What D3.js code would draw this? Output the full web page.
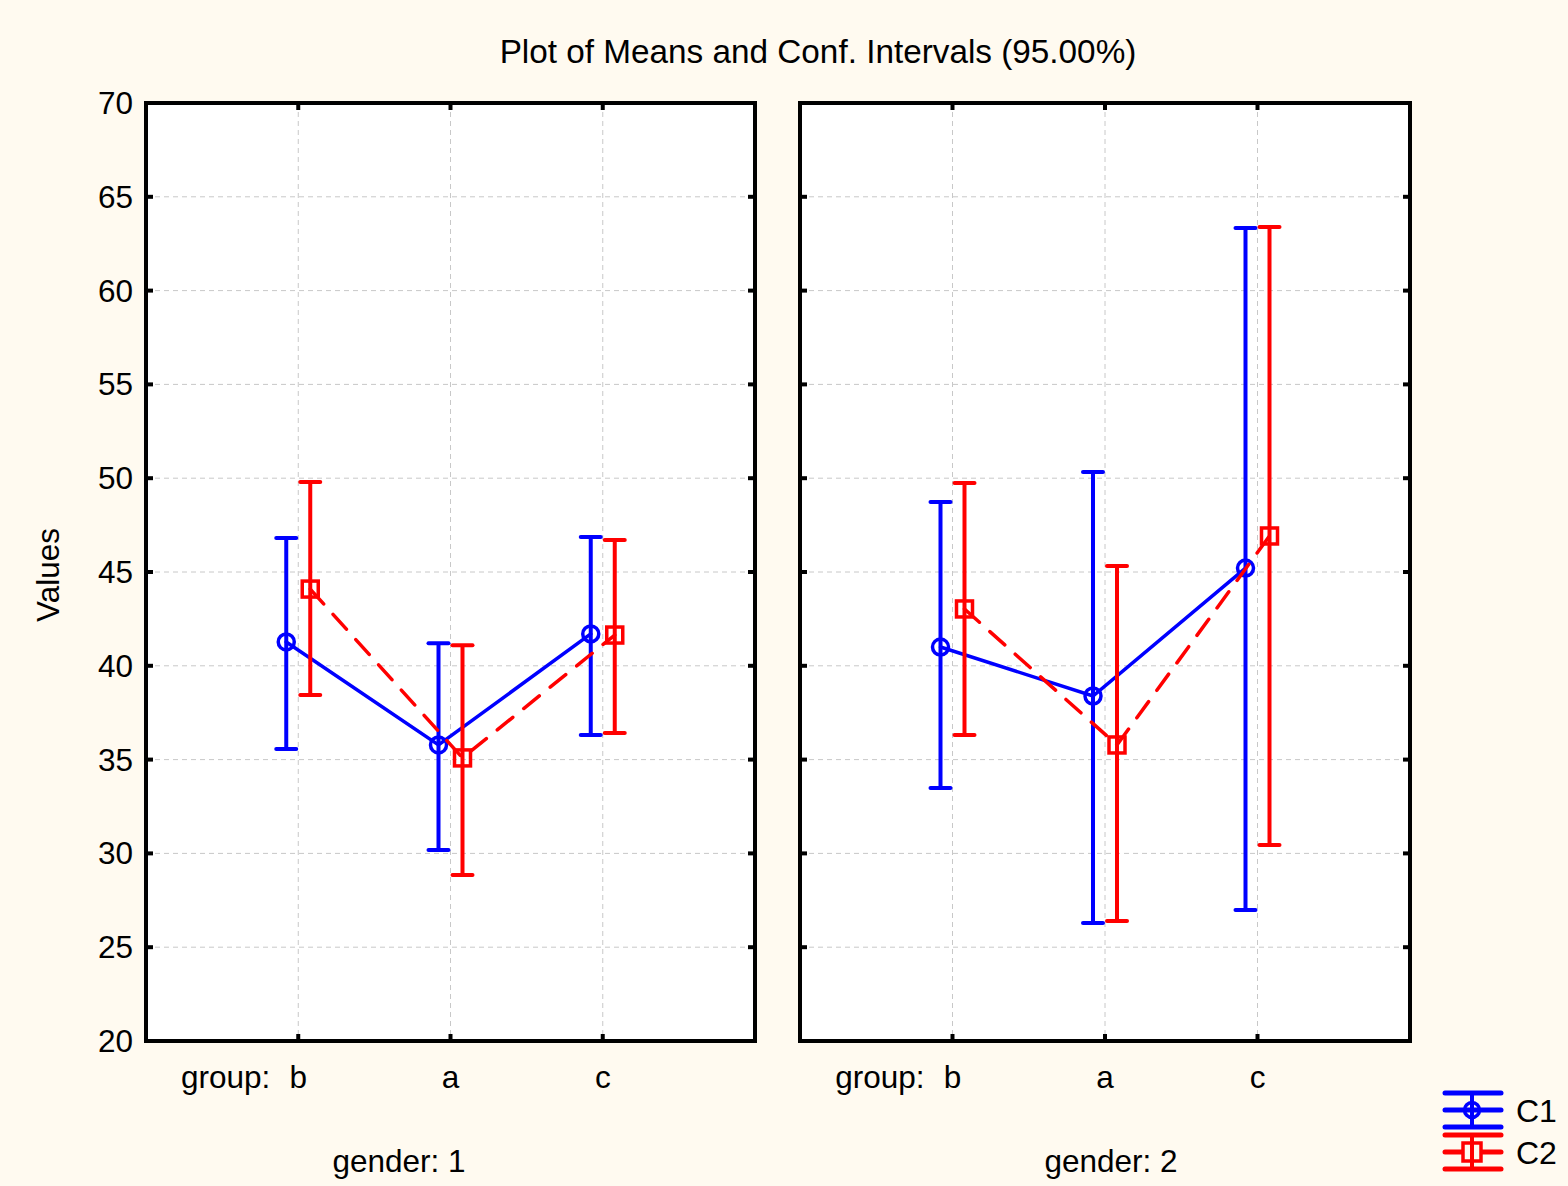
<!DOCTYPE html>
<html><head><meta charset="utf-8">
<script src="https://cdn.jsdelivr.net/npm/d3@7"></script>
<style>body{margin:0;background:#FFFAF0;}svg{display:block;font-family:"Liberation Sans",Arial,sans-serif;}</style>
</head><body>
<svg id="chart" width="1568" height="1186"></svg>
<script>
const groups = ["b","a","c"];
const panels = ["gender: 1","gender: 2"];
const yTicks = [20,25,30,35,40,45,50,55,60,65,70];
// [panel][group]
const c1Mean = [[41.27,35.78,41.7],[41.0,38.39,45.21]];
const c1Low  = [[35.57,30.18,36.31],[33.49,26.29,26.98]];
const c1High = [[46.81,41.2,46.87],[48.73,50.33,63.34]];
const c2Mean = [[44.09,35.09,41.64],[43.03,35.78,46.92]];
const c2Low  = [[38.44,28.85,36.42],[36.31,26.4,30.45]];
const c2High = [[49.8,41.1,46.7],[49.74,45.32,63.39]];
const seriesNames = ["C1","C2"];

const svg = d3.select("#chart");
svg.append("rect").attr("width",1568).attr("height",1186).attr("fill","#FFFAF0");

const plotTop = 103, plotBottom = 1041;
const panelX = [[146,755],[800,1410]];
const y = d3.scaleLinear().domain([20,70]).range([plotBottom,plotTop]);
const FS = 31.5;

svg.append("text").attr("x",818).attr("y",63).attr("text-anchor","middle")
  .attr("font-size",33.3).text("Plot of Means and Conf. Intervals (95.00%)");

svg.append("text").attr("transform","translate(59,575) rotate(-90)")
  .attr("text-anchor","middle").attr("font-size",FS).text("Values");

svg.selectAll(".ylab").data(yTicks).enter().append("text")
  .attr("x",133).attr("y",d=>y(d)+11).attr("text-anchor","end").attr("font-size",FS).text(d=>d);

const series = [
  {mean:c1Mean, low:c1Low, high:c1High, color:"#0000FF", off:-12, dash:null, marker:"circle"},
  {mean:c2Mean, low:c2Low, high:c2High, color:"#FF0000", off:12, dash:"20,14", marker:"square"}
];

panelX.forEach((px,pi)=>{
  const x = d3.scalePoint().domain(groups).range([px[0],px[1]]).padding(1);
  const g = svg.append("g");
  g.append("rect").attr("x",px[0]).attr("y",plotTop).attr("width",px[1]-px[0]).attr("height",plotBottom-plotTop).attr("fill","#fff");
  g.selectAll(".hg").data(yTicks.slice(1,-1)).enter().append("line")
    .attr("x1",px[0]).attr("x2",px[1]).attr("y1",d=>y(d)).attr("y2",d=>y(d))
    .attr("stroke","#c8c8c8").attr("stroke-dasharray","5,4").attr("stroke-width",1);
  g.selectAll(".vg").data(groups).enter().append("line")
    .attr("x1",d=>x(d)).attr("x2",d=>x(d)).attr("y1",plotTop).attr("y2",plotBottom)
    .attr("stroke","#c8c8c8").attr("stroke-dasharray","5,4").attr("stroke-width",1);
  g.selectAll(".tl").data(yTicks).enter().append("line")
    .attr("x1",px[0]).attr("x2",px[0]+7).attr("y1",d=>y(d)).attr("y2",d=>y(d)).attr("stroke","#000").attr("stroke-width",4);
  g.selectAll(".tr").data(yTicks).enter().append("line")
    .attr("x1",px[1]-7).attr("x2",px[1]).attr("y1",d=>y(d)).attr("y2",d=>y(d)).attr("stroke","#000").attr("stroke-width",4);
  g.selectAll(".tb").data(groups).enter().append("line")
    .attr("x1",d=>x(d)).attr("x2",d=>x(d)).attr("y1",plotBottom-7).attr("y2",plotBottom).attr("stroke","#000").attr("stroke-width",4);
  g.selectAll(".tt").data(groups).enter().append("line")
    .attr("x1",d=>x(d)).attr("x2",d=>x(d)).attr("y1",plotTop).attr("y2",plotTop+7).attr("stroke","#000").attr("stroke-width",4);

  series.forEach(s=>{
    const pts = groups.map((gname,gi)=>({x:x(gname)+s.off, m:s.mean[pi][gi], lo:s.low[pi][gi], hi:s.high[pi][gi]}));
    const line = d3.line().x(d=>d.x).y(d=>y(d.m));
    g.append("path").attr("d",line(pts)).attr("fill","none").attr("stroke",s.color).attr("stroke-width",3.5)
      .attr("stroke-dasharray",s.dash).attr("stroke-linecap","round");
    pts.forEach(p=>{
      g.append("line").attr("x1",p.x).attr("x2",p.x).attr("y1",y(p.lo)).attr("y2",y(p.hi)).attr("stroke",s.color).attr("stroke-width",4);
      [p.lo,p.hi].forEach(v=>g.append("line").attr("x1",p.x-10).attr("x2",p.x+10).attr("y1",y(v)).attr("y2",y(v)).attr("stroke",s.color).attr("stroke-width",4).attr("stroke-linecap","round"));
      if(s.marker==="circle") g.append("circle").attr("cx",p.x).attr("cy",y(p.m)).attr("r",8).attr("fill","none").attr("stroke",s.color).attr("stroke-width",3.5);
      else g.append("rect").attr("x",p.x-8).attr("y",y(p.m)-8).attr("width",16).attr("height",16).attr("fill","none").attr("stroke",s.color).attr("stroke-width",3.5);
    });
  });
  g.append("rect").attr("x",px[0]).attr("y",plotTop).attr("width",px[1]-px[0]).attr("height",plotBottom-plotTop)
    .attr("fill","none").attr("stroke","#000").attr("stroke-width",4);
  groups.forEach((gname)=>{
    g.append("text").attr("x",x(gname)).attr("y",1088).attr("text-anchor","middle").attr("font-size",FS).text(gname);
  });
  g.append("text").attr("x",x(groups[0])-28).attr("y",1088).attr("text-anchor","end").attr("font-size",FS).text("group:");
  g.append("text").attr("x",pi===0?399:1111).attr("y",1172).attr("text-anchor","middle").attr("font-size",FS).text(panels[pi]);
});

series.forEach((s,i)=>{
  const cy = 1110 + i*42;
  const lg = svg.append("g");
  [-17,0,17].forEach(d=>lg.append("line").attr("x1",1445).attr("x2",1501).attr("y1",cy+d).attr("y2",cy+d).attr("stroke",s.color).attr("stroke-width",5).attr("stroke-linecap","round"));
  lg.append("line").attr("x1",1472).attr("x2",1472).attr("y1",cy-17).attr("y2",cy+17).attr("stroke",s.color).attr("stroke-width",4);
  if(s.marker==="circle") lg.append("circle").attr("cx",1472).attr("cy",cy).attr("r",7.5).attr("fill","none").attr("stroke",s.color).attr("stroke-width",3.5);
  else lg.append("rect").attr("x",1463).attr("y",cy-9).attr("width",18).attr("height",18).attr("fill","#FFFAF0").attr("stroke",s.color).attr("stroke-width",3.5);
  if(s.marker!=="circle") lg.append("line").attr("x1",1472).attr("x2",1472).attr("y1",cy-9).attr("y2",cy+9).attr("stroke",s.color).attr("stroke-width",4);
  lg.append("text").attr("x",1516).attr("y",cy+12).attr("font-size",32).text(seriesNames[i]);
});
</script>
</body></html>
